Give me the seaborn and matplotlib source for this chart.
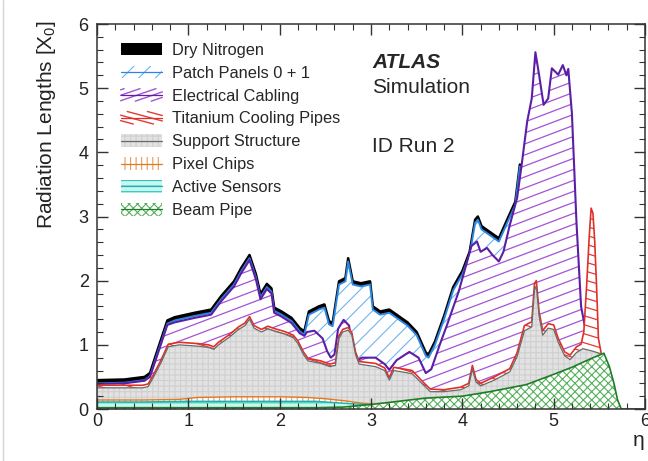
import numpy as np
import matplotlib
matplotlib.use("Agg")
import matplotlib.pyplot as plt
import seaborn as sns
from matplotlib.collections import LineCollection
from matplotlib.patches import Patch, Rectangle
from matplotlib.lines import Line2D
from matplotlib.legend_handler import HandlerBase
from matplotlib.ticker import MultipleLocator

sns.set_style("ticks")
plt.rcParams['font.family'] = ['Liberation Sans', 'DejaVu Sans']
plt.rcParams['mathtext.fontset'] = 'custom'
plt.rcParams['mathtext.rm'] = 'Liberation Sans'
plt.rcParams['mathtext.it'] = 'Liberation Sans:italic'
plt.rcParams['hatch.linewidth'] = 0.8

# ---- data: cumulative top of each material layer vs eta ----
total_eta = [0, 0.3, 0.52, 0.58, 0.67, 0.77, 0.85, 1.07, 1.25, 1.36, 1.5, 1.58, 1.67, 1.74,
             1.79, 1.86, 1.91, 1.94, 2.02, 2.13, 2.22, 2.27, 2.32, 2.43, 2.49, 2.54, 2.58,
             2.65, 2.72, 2.75, 2.8, 2.89, 2.99, 3.02, 3.1, 3.2, 3.25, 3.3, 3.4, 3.5, 3.6,
             3.63, 3.7, 3.8, 3.9, 4.0, 4.08, 4.14, 4.17, 4.21, 4.32, 4.4, 4.5, 4.58, 4.63]
nitrogen_top = [0.45, 0.46, 0.5, 0.56, 0.95, 1.38, 1.43, 1.5, 1.55, 1.76, 1.99, 2.2, 2.40, 2.1,
                1.79, 1.95, 1.88, 1.58, 1.52, 1.42, 1.26, 1.21, 1.52, 1.6, 1.63, 1.37, 1.34,
                1.99, 2.04, 2.35, 1.99, 1.96, 1.99, 1.6, 1.52, 1.55, 1.5, 1.45, 1.35, 1.2, 0.88,
                0.85, 1.05, 1.45, 1.9, 2.15, 2.45, 2.95, 3.0, 2.85, 2.74, 2.66, 2.98, 3.23, 3.81]
patch_top = [0.40, 0.41, 0.45, 0.51, 0.9, 1.33, 1.38, 1.45, 1.5, 1.71, 1.94, 2.15, 2.35, 2.05,
             1.74, 1.9, 1.83, 1.53, 1.47, 1.37, 1.21, 1.16, 1.47, 1.55, 1.58, 1.32, 1.29,
             1.94, 1.99, 2.3, 1.94, 1.91, 1.94, 1.55, 1.47, 1.5, 1.45, 1.4, 1.3, 1.15, 0.83,
             0.8, 1.0, 1.4, 1.85, 2.1, 2.4, 2.9, 2.95, 2.8, 2.69, 2.61, 2.93, 3.18, 3.78]

cabling_eta = [0, 0.3, 0.52, 0.58, 0.67, 0.77, 0.85, 1.07, 1.25, 1.36, 1.5, 1.58, 1.67, 1.74,
               1.79, 1.86, 1.91, 1.94, 2.02, 2.13, 2.22, 2.27, 2.3, 2.38, 2.47, 2.52, 2.56,
               2.6, 2.64, 2.7, 2.76, 2.8, 2.85, 2.9, 3.05, 3.15, 3.2, 3.28, 3.42, 3.52, 3.6,
               3.66, 3.76, 3.83, 3.96, 4.1, 4.16, 4.2, 4.27, 4.33, 4.4, 4.45, 4.52, 4.6, 4.65,
               4.71, 4.76, 4.8, 4.84, 4.89, 4.94, 4.98, 5.05, 5.1, 5.14, 5.16, 5.2, 5.25, 5.3, 5.34]
cabling_top = [0.39, 0.4, 0.44, 0.5, 0.88, 1.31, 1.35, 1.42, 1.47, 1.68, 1.91, 2.12, 2.32, 2.02,
               1.71, 1.87, 1.8, 1.5, 1.44, 1.34, 1.18, 1.14, 1.2, 1.22, 1.1, 0.9, 0.8,
               0.85, 1.25, 1.39, 1.3, 0.9, 0.76, 0.8, 0.8, 0.7, 0.61, 0.76, 0.89, 0.8, 0.56,
               0.62, 1.03, 1.3, 1.83, 2.54, 2.61, 2.45, 2.51, 2.4, 2.3, 2.45, 2.87, 3.29, 3.81,
               4.48, 4.84, 5.56, 5.21, 4.74, 4.84, 5.31, 5.21, 5.36, 5.2, 5.3, 4.6, 2.9, 1.6, 1.3]

cooling_eta = [0, 0.5, 0.56, 0.62, 0.7, 0.78, 0.9, 1.1, 1.22, 1.28, 1.33, 1.45, 1.55, 1.62,
               1.67, 1.72, 1.8, 1.87, 1.95, 2.05, 2.15, 2.2, 2.26, 2.31, 2.45, 2.55, 2.61,
               2.65, 2.69, 2.75, 2.79, 2.83, 2.87, 3.05, 3.15, 3.2, 3.25, 3.45, 3.57, 3.65,
               3.8, 3.98, 4.07, 4.11, 4.15, 4.2, 4.35, 4.52, 4.6, 4.68, 4.76, 4.79, 4.81, 4.84,
               4.88, 4.94, 5.0, 5.05, 5.12, 5.18, 5.25, 5.3, 5.33, 5.36, 5.39, 5.41, 5.43,
               5.45, 5.47, 5.49, 5.52]
cooling_top = [0.37, 0.37, 0.39, 0.54, 0.76, 1.01, 1.04, 1.02, 1.0, 0.97, 1.04, 1.16, 1.28, 1.34,
               1.44, 1.3, 1.24, 1.29, 1.25, 1.21, 1.15, 1.06, 0.89, 0.79, 0.75, 0.7, 0.72,
               1.14, 1.24, 1.27, 1.19, 0.89, 0.74, 0.71, 0.64, 0.49, 0.65, 0.6, 0.42, 0.31,
               0.3, 0.34, 0.4, 0.68, 0.46, 0.4, 0.5, 0.63, 0.88, 1.3, 1.36, 1.96, 2.0, 1.52,
               1.22, 1.33, 1.31, 1.1, 0.89, 0.84, 0.97, 1.01, 1.2, 1.9, 2.7, 3.13, 3.05,
               2.6, 1.9, 1.1, 0.87]

support_eta = [0, 0.5, 0.56, 0.62, 0.7, 0.78, 0.9, 1.1, 1.22, 1.28, 1.33, 1.45, 1.55, 1.62,
               1.67, 1.72, 1.8, 1.87, 1.95, 2.05, 2.15, 2.2, 2.26, 2.31, 2.45, 2.55, 2.61,
               2.65, 2.69, 2.75, 2.79, 2.83, 2.87, 3.05, 3.15, 3.2, 3.25, 3.45, 3.57, 3.65,
               3.8, 3.98, 4.07, 4.11, 4.15, 4.2, 4.35, 4.52, 4.6, 4.68, 4.76, 4.79, 4.81, 4.84,
               4.88, 4.94, 5.0, 5.05, 5.12, 5.18, 5.25, 5.32, 5.43, 5.52]
support_top = [0.33, 0.33, 0.35, 0.5, 0.72, 0.97, 1.0, 0.98, 0.96, 0.93, 1.0, 1.12, 1.24, 1.3,
               1.40, 1.26, 1.2, 1.25, 1.21, 1.17, 1.11, 1.02, 0.85, 0.75, 0.71, 0.66, 0.68,
               1.1, 1.2, 1.23, 1.15, 0.85, 0.7, 0.66, 0.6, 0.45, 0.6, 0.55, 0.38, 0.27,
               0.27, 0.30, 0.36, 0.62, 0.42, 0.36, 0.45, 0.58, 0.82, 1.22, 1.28, 1.85, 1.92, 1.45,
               1.15, 1.26, 1.24, 1.04, 0.83, 0.77, 0.88, 0.94, 0.9, 0.86]

pixel_eta = [0, 0.5, 0.9, 1.1, 1.5, 2.0, 2.3, 2.5, 2.7, 2.9, 3.05]
pixel_top = [0.14, 0.14, 0.15, 0.18, 0.19, 0.19, 0.18, 0.16, 0.13, 0.09, 0.07]

sensor_eta = [0, 0.5, 1.0, 1.5, 2.0, 2.4, 2.6, 2.8, 2.95, 3.05]
sensor_top = [0.11, 0.11, 0.12, 0.12, 0.12, 0.12, 0.1, 0.08, 0.07, 0.07]

beampipe_eta = [0, 2.4, 2.7, 3.0, 3.3, 3.6, 4.0, 4.3, 4.7, 5.0, 5.2, 5.4, 5.55, 5.61, 5.66,
                5.7, 5.74, 6.0]
beampipe_top = [0.02, 0.02, 0.03, 0.07, 0.12, 0.17, 0.2, 0.27, 0.38, 0.54, 0.65, 0.78, 0.87,
                0.66, 0.4, 0.14, 0.0, 0.0]

labels = ['Dry Nitrogen', 'Patch Panels 0 + 1', 'Electrical Cabling', 'Titanium Cooling Pipes',
          'Support Structure', 'Pixel Chips', 'Active Sensors', 'Beam Pipe']
layer_data = [(total_eta, nitrogen_top), (total_eta, patch_top), (cabling_eta, cabling_top),
              (cooling_eta, cooling_top), (support_eta, support_top), (pixel_eta, pixel_top),
              (sensor_eta, sensor_top), (beampipe_eta, beampipe_top)]

# ---- styles ----
styles = {
    'Dry Nitrogen': dict(face='black', hcolor='black', hatch=None, line='black', lw=1.8),
    'Patch Panels 0 + 1': dict(face='white', hcolor='#6cb4f2', hatch='//', line='#2a86e0', lw=1.4),
    'Electrical Cabling': dict(face='white', hcolor='#a452d6', hatch=None, slope=0.38, gap=11,
                               line='#5b1fa6', lw=1.5),
    'Titanium Cooling Pipes': dict(face='white', hcolor='#e23a34', hatch=None, slope=-0.3, gap=9,
                                   line='#e0302a', lw=1.2),
    'Support Structure': dict(face='#e2e2e2', hcolor='#d0d0d0', hatch='+++', line='#6a6a6a', lw=0.9),
    'Pixel Chips': dict(face='white', hcolor='#e89a55', hatch='|||', line='#e07a22', lw=1.0),
    'Active Sensors': dict(face='#c9f5f1', hcolor='#2ec6bd', hatch='---', line='#1cb3ad', lw=1.0),
    'Beam Pipe': dict(face='white', hcolor='#55b05a', hatch='xxxx', line='#1e7d24', lw=1.2),
}

fig, ax = plt.subplots(figsize=(6.48, 4.61), dpi=100)
fig.subplots_adjust(left=97 / 648, right=645 / 648, bottom=1 - 409 / 461, top=1 - 24 / 461)
ax.set_xlim(0, 6)
ax.set_ylim(0, 6)

bb = ax.get_window_extent()


def slant_hatch(poly, slope, gap, color, z):
    s = slope * bb.width / bb.height
    step = gap / bb.height
    offs = np.arange(-abs(s) - 0.05, 1 + abs(s) + 0.05, step)
    segs = [[(0, c), (1, c + s)] for c in offs]
    lc = LineCollection(segs, colors=color, linewidths=0.9, transform=ax.transAxes, zorder=z)
    lc.set_clip_path(poly.get_paths()[0], ax.transData)
    ax.add_collection(lc, autolim=False)


# paint from the outermost cumulative layer inwards
for z, (name, (eta, top)) in enumerate(zip(labels, layer_data), start=1):
    st = styles[name]
    poly = ax.fill_between(eta, 0, top, facecolor=st['face'], edgecolor=st['hcolor'],
                           hatch=st['hatch'], linewidth=0, zorder=z)
    if 'slope' in st:
        slant_hatch(poly, st['slope'], st['gap'], st['hcolor'], z + 0.2)
    sns.lineplot(x=eta, y=top, ax=ax, color=st['line'], linewidth=st['lw'],
                 zorder=z + 0.5, estimator=None, sort=False)


# ---- legend ----
class Swatch(HandlerBase):
    def __init__(self, st):
        super().__init__()
        self.st = st

    def create_artists(self, legend, orig_handle, xd, yd, w, h, fontsize, trans):
        st = self.st
        x0, y0 = -xd, -yd
        rect = Rectangle((x0, y0), w, h, facecolor=st['face'], edgecolor=st['hcolor'],
                         hatch=st['hatch'], linewidth=0, transform=trans)
        out = [rect]
        if 'slope' in st:
            s = st['slope'] * 0.9
            for b in np.arange(y0 - abs(s) * w - h, y0 + h + abs(s) * w + h, h / 2.3):
                xa = x0 + (y0 - b) / s
                xb = x0 + (y0 + h - b) / s
                lo, hi = max(x0, min(xa, xb)), min(x0 + w, max(xa, xb))
                if hi > lo:
                    out.append(Line2D([lo, hi], [b + s * (lo - x0), b + s * (hi - x0)],
                                      color=st['hcolor'], lw=1.0, transform=trans))
        if st['face'] != 'black':
            out.append(Line2D([x0, x0 + w], [y0 + h / 2] * 2, color=st['line'],
                              lw=0.9, transform=trans))
        return out


handles = [Patch(label=n) for n in labels]
hmap = {hd: Swatch(styles[n]) for hd, n in zip(handles, labels)}
leg = ax.legend(handles=handles, labels=labels, handler_map=hmap, loc='upper left',
                bbox_to_anchor=(0.043, 0.951), frameon=False, fontsize=11.8,
                handlelength=2.55, handleheight=0.8, handletextpad=0.6,
                labelspacing=0.48, borderpad=0, borderaxespad=0)
leg.set_zorder(30)

ax.text(0.502, 0.886, 'ATLAS', transform=ax.transAxes, fontsize=15, fontweight='bold',
        fontstyle='italic', va='baseline', zorder=30)
ax.text(0.502, 0.821, 'Simulation', transform=ax.transAxes, fontsize=15, va='baseline', zorder=30)
ax.text(0.502, 0.668, 'ID Run 2', transform=ax.transAxes, fontsize=15, va='baseline', zorder=30)

# ---- axes ----
ax.xaxis.set_major_locator(MultipleLocator(1))
ax.xaxis.set_minor_locator(MultipleLocator(0.2))
ax.yaxis.set_major_locator(MultipleLocator(1))
ax.yaxis.set_minor_locator(MultipleLocator(0.2))
ax.tick_params(which='both', direction='in', top=True, right=True, color='#333333',
               labelsize=13, labelcolor='#222222')
ax.tick_params(which='major', length=8, width=1.0)
ax.tick_params(which='minor', length=4, width=0.8)
ax.tick_params(axis='x', pad=3)
ax.tick_params(axis='y', pad=6)
for sp in ax.spines.values():
    sp.set_color('#333333')
    sp.set_linewidth(1.1)
    sp.set_zorder(20)
ax.xaxis.set_zorder(20)
ax.yaxis.set_zorder(20)

ax.set_ylabel('Radiation Lengths [X$_0$]', fontsize=15, color='#222222', loc='top')
ax.yaxis.set_label_coords(-0.071, 1.01)
ax.set_xlabel('η', fontsize=15, color='#222222', loc='right')
ax.xaxis.set_label_coords(1.0, -0.058)

fig.add_artist(Line2D([0.004, 0.004], [0, 1], transform=fig.transFigure, color='#d4d4d4', lw=1))

fig.savefig('out.png', dpi=100)
